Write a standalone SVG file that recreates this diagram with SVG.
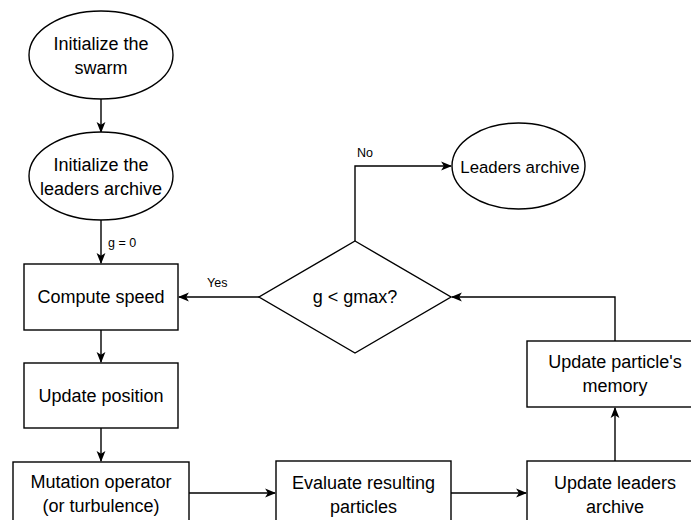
<svg xmlns="http://www.w3.org/2000/svg" width="691" height="520" viewBox="0 0 691 520">
<defs>
<style>
.shape{fill:#ffffff;stroke:#000000;stroke-width:1.4}
.edge{fill:none;stroke:#000000;stroke-width:1.4}
.t{font-family:"Liberation Sans",Arial,sans-serif;font-size:18px;fill:#000000;text-anchor:middle}
.s{font-family:"Liberation Sans",Arial,sans-serif;font-size:12.5px;fill:#000000}
</style>
<marker id="arr" viewBox="0 0 10 10" refX="9" refY="5" markerWidth="11" markerHeight="11" markerUnits="userSpaceOnUse" orient="auto">
<path d="M0,1 L10,5 L0,9 L2.5,5 z" fill="#000000"/>
</marker>
</defs>
<rect width="691" height="520" fill="#ffffff"/>
<g id="connectors">
<path class="edge" d="M101,99 L101,132" marker-end="url(#arr)"/>
<path class="edge" d="M101,220 L101,263" marker-end="url(#arr)"/>
<path class="edge" d="M101,330 L101,362" marker-end="url(#arr)"/>
<path class="edge" d="M101,428 L101,461" marker-end="url(#arr)"/>
<path class="edge" d="M189,493 L275,493" marker-end="url(#arr)"/>
<path class="edge" d="M451,493 L526,493" marker-end="url(#arr)"/>
<path class="edge" d="M615,461 L615,408" marker-end="url(#arr)"/>
<path class="edge" d="M615,341 L615,297 L452,297" marker-end="url(#arr)"/>
<path class="edge" d="M259,297 L179,297" marker-end="url(#arr)"/>
<path class="edge" d="M355,241 L355,166 L451,166" marker-end="url(#arr)"/>
<text class="s" x="108" y="247">g = 0</text>
<text class="s" x="207" y="287">Yes</text>
<text class="s" x="357" y="157">No</text>
</g>
<g id="init-swarm">
<ellipse class="shape" cx="101" cy="55" rx="72" ry="44"/>
<text class="t" x="101" y="50">Initialize the</text>
<text class="t" x="101" y="74">swarm</text>
</g>
<g id="init-leaders">
<ellipse class="shape" cx="101" cy="176" rx="72" ry="44"/>
<text class="t" x="101" y="171">Initialize the</text>
<text class="t" x="101" y="195">leaders archive</text>
</g>
<g id="compute-speed">
<rect class="shape" x="24" y="264" width="154" height="66"/>
<text class="t" x="101" y="303">Compute speed</text>
</g>
<g id="update-position">
<rect class="shape" x="24" y="363" width="154" height="65"/>
<text class="t" x="101" y="402">Update position</text>
</g>
<g id="mutation">
<rect class="shape" x="13" y="462" width="176" height="70"/>
<text class="t" x="101" y="488">Mutation operator</text>
<text class="t" x="101" y="512">(or turbulence)</text>
</g>
<g id="evaluate">
<rect class="shape" x="276" y="461" width="175" height="70"/>
<text class="t" x="363.5" y="489">Evaluate resulting</text>
<text class="t" x="363.5" y="513">particles</text>
</g>
<g id="update-leaders">
<rect class="shape" x="527" y="461" width="176" height="70"/>
<text class="t" x="615" y="489">Update leaders</text>
<text class="t" x="615" y="513">archive</text>
</g>
<g id="update-memory">
<rect class="shape" x="527" y="341" width="176" height="66"/>
<text class="t" x="615" y="368">Update particle's</text>
<text class="t" x="615" y="392">memory</text>
</g>
<g id="decision">
<polygon class="shape" points="355,241 451,297 355,353 259,297"/>
<text class="t" x="355" y="303">g &lt; gmax?</text>
</g>
<g id="leaders-archive">
<ellipse class="shape" cx="518.5" cy="166" rx="66.5" ry="43"/>
<text class="t" x="520" y="172.5" style="font-size:16.8px">Leaders archive</text>
</g>
</svg>
